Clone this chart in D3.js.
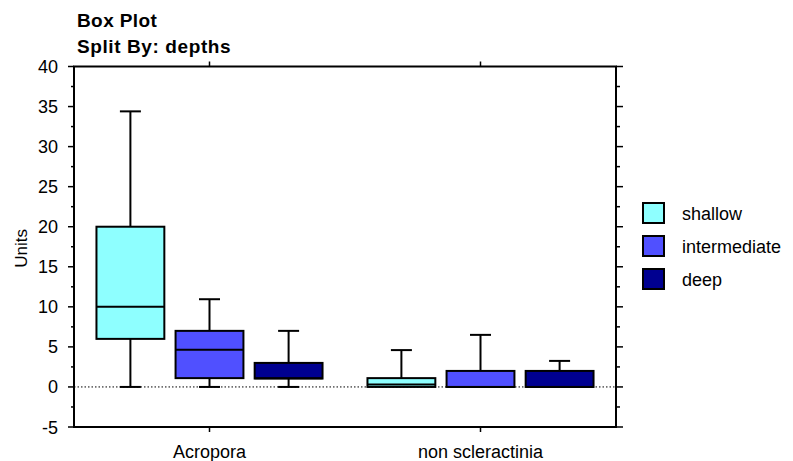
<!doctype html>
<html lang="en">
<head>
  <meta charset="utf-8">
  <title>Box Plot</title>
  <style>
  body { margin: 0; background: #fff; }
  svg { font-family: "Liberation Sans", Arial, sans-serif; }
  .frame { fill: none; stroke: #000; stroke-width: 2; }
  .box { stroke: #000; stroke-width: 2; }
  .whisk { stroke: #000; stroke-width: 2; fill: none; }
  </style>
</head>
<body>
  <div id="chart"></div>
  <script src="https://d3js.org/d3.v7.min.js"></script>
  <script>
    (function(){

      // data
      var categories = ['Acropora', 'non scleractinia'];
      var depths = ['shallow', 'intermediate', 'deep'];
      var colors = ['#8effff', '#5050ff', '#000090'];
      // [category][depth] -> min, q1, median, q3, max
      var mins    = [[0, 0, 0], [0, 0, 0]];
      var q1s     = [[6, 1.1, 1.05], [0, 0, 0]];
      var medians = [[10, 4.65, 1.1], [0.3, 0, 0]];
      var q3s     = [[20, 7, 3], [1.1, 2, 2]];
      var maxs    = [[34.4, 10.95, 7], [4.6, 6.5, 3.25]];
      var yTicks = [-5, 0, 5, 10, 15, 20, 25, 30, 35, 40];

      var width = 793, height = 461;
      var left = 74, right = 616, top = 66.5, bottom = 427;

      var svg = d3.select('#chart').append('svg')
          .attr('width', width)
          .attr('height', height);

      var y = d3.scaleLinear().domain([-5, 40]).range([bottom, top]);
      var x = d3.scaleBand().domain(categories).range([left, right]);
      var inner = d3.scaleBand().domain(depths).range([0, x.bandwidth()])
          .paddingInner(0.142).paddingOuter(0.284);

      // titles
      svg.append('text').attr('x', 77).attr('y', 26.5)
        .attr('font-size', 19).attr('font-weight', 'bold')
        .attr('letter-spacing', 0.4).text('Box Plot');
      svg.append('text').attr('x', 77).attr('y', 53)
        .attr('font-size', 19).attr('font-weight', 'bold')
        .attr('letter-spacing', 0.6).text('Split By: depths');

      // zero line
      svg.append('line')
        .attr('x1', left).attr('x2', right)
        .attr('y1', y(0)).attr('y2', y(0))
        .attr('stroke', '#000').attr('stroke-dasharray', '1.5,2');

      // boxes
      categories.forEach(function(c, ci) {
        depths.forEach(function(d, di) {
          var x0 = x(c) + inner(d), w = inner.bandwidth(), cx = x0 + w / 2;
          var g = svg.append('g');
          var capW = 21;
          // upper whisker
          if (maxs[ci][di] > q3s[ci][di]) {
            g.append('line').attr('class', 'whisk')
              .attr('x1', cx).attr('x2', cx).attr('y1', y(q3s[ci][di])).attr('y2', y(maxs[ci][di]));
            g.append('line').attr('class', 'whisk')
              .attr('x1', cx - capW / 2).attr('x2', cx + capW / 2)
              .attr('y1', y(maxs[ci][di])).attr('y2', y(maxs[ci][di]));
          }
          if (mins[ci][di] < q1s[ci][di]) {
            g.append('line').attr('class', 'whisk')
              .attr('x1', cx).attr('x2', cx).attr('y1', y(q1s[ci][di])).attr('y2', y(mins[ci][di]));
            g.append('line').attr('class', 'whisk')
              .attr('x1', cx - capW / 2).attr('x2', cx + capW / 2)
              .attr('y1', y(mins[ci][di])).attr('y2', y(mins[ci][di]));
          }
          g.append('rect').attr('class', 'box')
            .attr('x', x0).attr('width', w)
            .attr('y', y(q3s[ci][di]))
            .attr('height', y(q1s[ci][di]) - y(q3s[ci][di]))
            .attr('fill', colors[di]);
          g.append('line').attr('class', 'whisk')
            .attr('x1', x0).attr('x2', x0 + w)
            .attr('y1', y(medians[ci][di])).attr('y2', y(medians[ci][di]));
        });
      });

      // frame
      svg.append('rect').attr('class', 'frame')
        .attr('x', left).attr('y', top)
        .attr('width', right - left).attr('height', bottom - top);

      // left / right axis ticks
      var minor = d3.range(-5, 40.1, 2.5);
      svg.selectAll('.lminor').data(minor).enter().append('line')
        .attr('x1', left).attr('x2', function(d) { return d % 5 === 0 ? left - 6 : left - 3; })
        .attr('y1', function(d) { return y(d); }).attr('y2', function(d) { return y(d); })
        .attr('stroke', '#000').attr('stroke-width', 1.5);
      svg.selectAll('.rminor').data(minor).enter().append('line')
        .attr('x1', right).attr('x2', function(d) { return d % 5 === 0 ? right + 7 : right + 4; })
        .attr('y1', function(d) { return y(d); }).attr('y2', function(d) { return y(d); })
        .attr('stroke', '#000').attr('stroke-width', 1.5);
      svg.selectAll('.ylab').data(yTicks).enter().append('text')
        .attr('x', 58).attr('y', function(d) { return y(d) + 6.5; })
        .attr('text-anchor', 'end').attr('font-size', 18)
        .text(function(d) { return d; });

      svg.append('text')
        .attr('transform', 'translate(27,' + y(17.3) + ') rotate(-90)')
        .attr('text-anchor', 'middle').attr('font-size', 17).text('Units');

      // category ticks + labels
      categories.forEach(function(c) {
        var cx = x(c) + x.bandwidth() / 2;
        svg.append('line').attr('x1', cx).attr('x2', cx).attr('y1', bottom).attr('y2', bottom + 5)
          .attr('stroke', '#000').attr('stroke-width', 1.5);
        svg.append('line').attr('x1', cx).attr('x2', cx).attr('y1', top).attr('y2', top - 5)
          .attr('stroke', '#000').attr('stroke-width', 1.5);
        svg.append('text').attr('x', cx).attr('y', 458)
          .attr('text-anchor', 'middle').attr('font-size', 18).text(c);
      });

      // legend
      var leg = svg.selectAll('.leg').data(depths).enter().append('g')
        .attr('transform', function(d, i) { return 'translate(643,' + (203 + i * 33) + ')'; });
      leg.append('rect').attr('width', 21).attr('height', 20)
        .attr('fill', function(d, i) { return colors[i]; })
        .attr('stroke', '#000').attr('stroke-width', 2);
      leg.append('text').attr('x', 39).attr('y', 17).attr('font-size', 18)
        .text(function(d) { return d; });

    })();
  </script>
</body>
</html>
